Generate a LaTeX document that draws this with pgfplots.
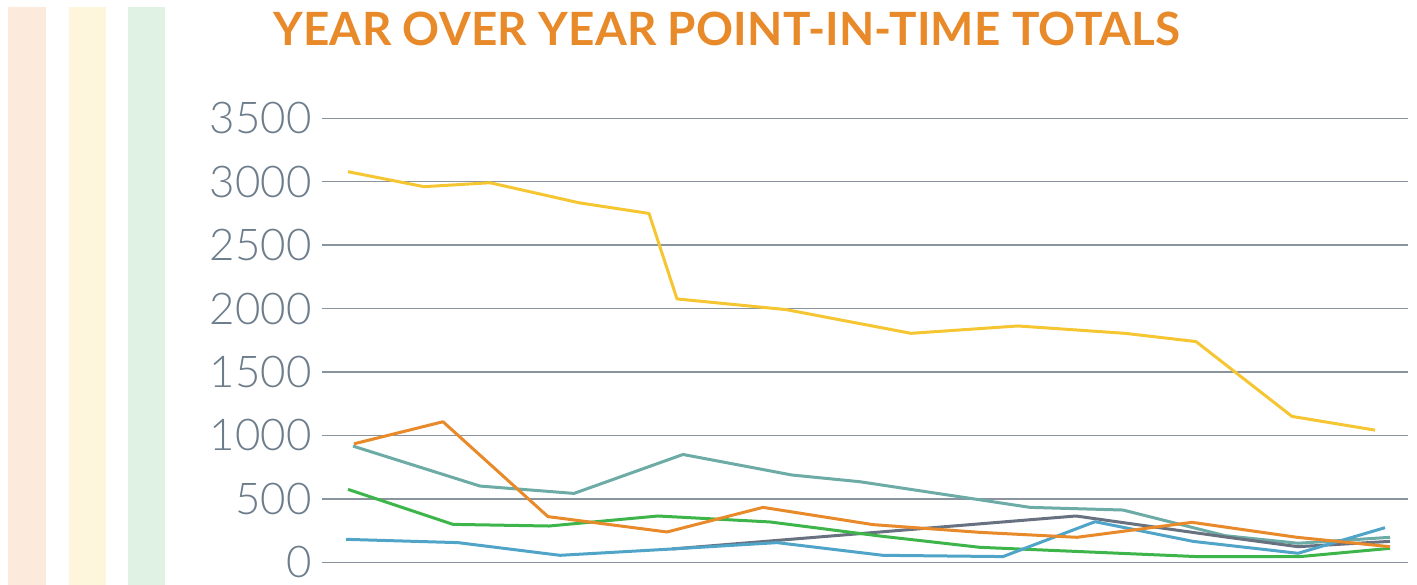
\documentclass[border=0pt]{standalone}
\usepackage{fontspec}
\usepackage{pgfplots}
\pgfplotsset{compat=1.18}
\setmainfont{Lato}
\newfontfamily\lightfont{Lato Light}
\newfontfamily\titlefont{Lato}[LetterSpace=0.5]

\definecolor{ptitorange}{HTML}{E8892A}
\definecolor{ptyellow}{HTML}{F5C632}
\definecolor{ptorange}{HTML}{E8892A}
\definecolor{ptteal}{HTML}{6CABA6}
\definecolor{ptgreen}{HTML}{3DB54A}
\definecolor{ptblue}{HTML}{4FA4C8}
\definecolor{ptgray}{HTML}{687180}
\definecolor{tickgray}{HTML}{6E7D8C}
\definecolor{gridgray}{HTML}{8A949F}
\definecolor{barpeach}{HTML}{FCEBDD}
\definecolor{baryellow}{HTML}{FDF5DC}
\definecolor{bargreen}{HTML}{E0F2E3}

\begin{document}
\begin{tikzpicture}
\useasboundingbox (0bp,0bp) rectangle (708.5bp,292.5bp);
% decorative side bars (1px = 0.5bp)
\begin{scope}[x=0.5bp,y=0.5bp]
\fill[barpeach] (8,0) rectangle (46,578);
\fill[baryellow] (69,0) rectangle (106,578);
\fill[bargreen] (128,0) rectangle (165,578);
\node[anchor=base, text=ptitorange, font=\titlefont\bfseries\fontsize{23}{23}\selectfont, inner sep=0pt]
  at (727,540) {YEAR OVER YEAR POINT-IN-TIME TOTALS};
\end{scope}

\begin{axis}[
    at={(161bp,11.35bp)}, anchor=south west,
    scale only axis, width=543bp, height=222bp,
    xmin=322, xmax=1408, ymin=0, ymax=3500,
    clip=false,
    axis line style={draw=none},
    xtick=\empty,
    ytick={0,500,...,3500},
    ymajorgrids,
    major grid style={gridgray, line width=0.7bp},
    major tick length=0pt,
    /pgf/number format/1000 sep={},
    /pgf/number format/assume math mode=true,
    yticklabel style={font=\lightfont\fontsize{22}{22}\selectfont, text=tickgray,
        anchor=east, inner sep=0pt, xshift=-5bp},
    every axis plot/.append style={line width=1.5bp, line join=round},
]
% yellow
\addplot[ptyellow] coordinates {(348,3079) (424,2961) (490,2992) (579,2834) (649,2750) (677,2076) (786,1992) (911,1805) (1018,1863) (1125,1805) (1196,1740) (1292,1150) (1375,1042)};
% teal
\addplot[ptteal] coordinates {(353,916) (480,601) (574,543) (683,850) (792,688) (860,635) (1030,433) (1123,412) (1225,210) (1298,150) (1390,197)};
% gray
\addplot[ptgray] coordinates {(672,105) (1076,365) (1225,200) (1298,123) (1390,165)};
% green
\addplot[ptgreen] coordinates {(348,575) (453,299) (549,286) (658,365) (770,318) (880,207) (980,118) (1197,45) (1300,45) (1390,110)};
% blue
\addplot[ptblue] coordinates {(346,181) (458,155) (560,55) (672,105) (777,155) (883,55) (1003,45) (1095,320) (1193,165) (1298,71) (1385,273)};
% orange
\addplot[ptorange] coordinates {(354,934) (443,1108) (548,360) (667,239) (763,433) (873,297) (980,236) (1077,197) (1192,315) (1297,197) (1390,123)};
\end{axis}
\end{tikzpicture}
\end{document}
